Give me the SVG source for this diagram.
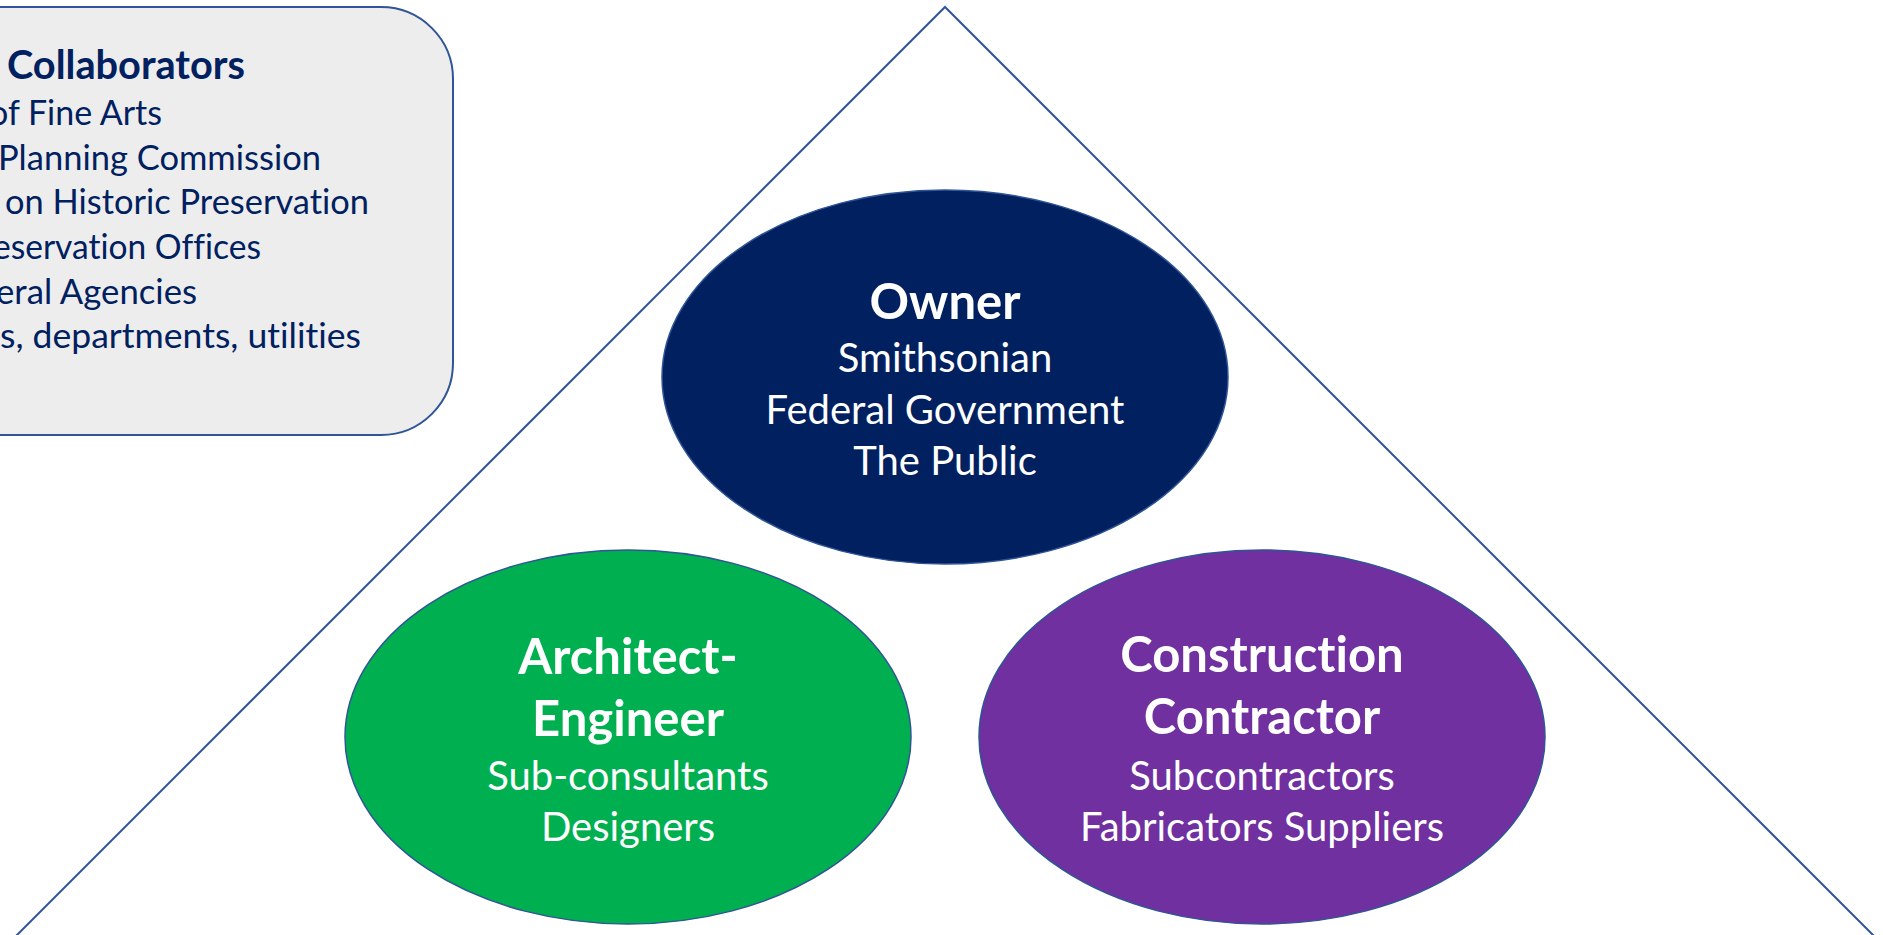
<svg xmlns="http://www.w3.org/2000/svg" width="1883" height="935" viewBox="0 0 1883 935">
<style>
.box{fill:#EDEDED;stroke:#2F5597;stroke-width:2}
.ell{stroke:#2F5597;stroke-width:1.5}
.tri{fill:none;stroke:#2F5597;stroke-width:2}
.t{font-family:Lato,"Open Sans",sans-serif;font-variant-ligatures:none;font-feature-settings:"liga" 0,"clig" 0}
.bt{fill:#002060;font-size:35px}
.bh{fill:#002060;font-size:39.5px;font-weight:bold}
.w{fill:#FFFFFF;text-anchor:middle}
.h{font-size:49px;font-weight:bold}
.s{font-size:40px}
</style>
<rect width="1883" height="935" fill="#FFFFFF"/>
<g id="triangle">
<path class="tri" d="M-10,962 L945,7 L1900,962"/>
</g>
<g id="collaborators">
<rect class="box" x="-80" y="7" width="533" height="428" rx="72" ry="72"/>
<text class="t bh" x="7" y="79" textLength="238" lengthAdjust="spacingAndGlyphs">Collaborators</text>
<text class="t bt" x="-11" y="125" textLength="173" lengthAdjust="spacingAndGlyphs">of Fine Arts</text>
<text class="t bt" x="-2" y="170" textLength="323" lengthAdjust="spacingAndGlyphs">Planning Commission</text>
<text class="t bt" x="5" y="214" textLength="364" lengthAdjust="spacingAndGlyphs">on Historic Preservation</text>
<text class="t bt" x="-7" y="259" textLength="268" lengthAdjust="spacingAndGlyphs">eservation Offices</text>
<text class="t bt" x="-4" y="304" textLength="201" lengthAdjust="spacingAndGlyphs">eral Agencies</text>
<text class="t bt" x="0" y="348" textLength="361" lengthAdjust="spacingAndGlyphs">s, departments, utilities</text>
</g>
<g id="owner">
<ellipse class="ell" cx="945" cy="377" rx="283" ry="187" fill="#002060"/>
<text class="t w h" x="945" y="319">Owner</text>
<text class="t w s" x="945" y="372">Smithsonian</text>
<text class="t w s" x="945" y="424">Federal Government</text>
<text class="t w s" x="945" y="475">The Public</text>
</g>
<g id="architect-engineer">
<ellipse class="ell" cx="628" cy="737" rx="283" ry="187" fill="#00B050"/>
<text class="t w h" x="628" y="674">Architect-</text>
<text class="t w h" x="628" y="736">Engineer</text>
<text class="t w s" x="628" y="790">Sub-consultants</text>
<text class="t w s" x="628" y="841">Designers</text>
</g>
<g id="construction-contractor">
<ellipse class="ell" cx="1262" cy="737" rx="283" ry="187" fill="#7030A0"/>
<text class="t w h" x="1262" y="672">Construction</text>
<text class="t w h" x="1262" y="734">Contractor</text>
<text class="t w s" x="1262" y="790">Subcontractors</text>
<text class="t w s" x="1262" y="841">Fabricators Suppliers</text>
</g>
<g id="connectors"></g>
</svg>
